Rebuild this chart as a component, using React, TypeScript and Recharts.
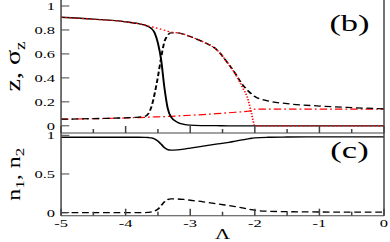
import { LineChart, Line, XAxis, YAxis, Customized } from 'recharts';

// coupling parameter (x axis)
const LAMBDA = [-5, -4.5, -4, -3.8, -3.7, -3.65, -3.6, -3.55, -3.5, -3.45, -3.4, -3.35, -3.3, -3.2, -3.1, -3.0, -2.8, -2.6, -2.4, -2.3, -2.2, -2.1, -2.05, -2.0, -1.8, -1.5, -1.0, -0.5, 0];

// panel (b)
const Z_SOLID = [0.906, 0.89, 0.868, 0.852, 0.84, 0.828, 0.812, 0.775, 0.69, 0.55, 0.32, 0.15, 0.075, 0.03, 0.012, 0.005, 0.002, 0.001, 0, 0, 0, 0, 0, 0, 0, 0, 0, 0, 0];
const SIGMA_DASHED = [0.055, 0.06, 0.067, 0.073, 0.078, 0.1, 0.16, 0.27, 0.41, 0.57, 0.7, 0.755, 0.775, 0.775, 0.763, 0.745, 0.7, 0.64, 0.51, 0.435, 0.35, 0.29, 0.265, 0.245, 0.208, 0.185, 0.165, 0.152, 0.142];
const Z_DOTTED = [0.906, 0.89, 0.868, 0.852, 0.84, 0.833, 0.826, 0.82, 0.813, 0.806, 0.798, 0.79, 0.783, 0.776, 0.765, 0.745, 0.7, 0.64, 0.51, 0.43, 0.33, 0.21, 0.1, 0, 0, 0, 0, 0, 0];
const SIGMA_DASHDOT = [0.055, 0.059, 0.065, 0.069, 0.071, 0.072, 0.073, 0.074, 0.075, 0.076, 0.077, 0.078, 0.079, 0.082, 0.085, 0.088, 0.094, 0.101, 0.109, 0.113, 0.117, 0.122, 0.125, 0.14, 0.14, 0.14, 0.14, 0.14, 0.14];

// panel (c)
const N1 = [0.975, 0.975, 0.975, 0.975, 0.974, 0.972, 0.967, 0.952, 0.925, 0.885, 0.84, 0.815, 0.808, 0.812, 0.822, 0.835, 0.86, 0.885, 0.91, 0.925, 0.94, 0.955, 0.962, 0.968, 0.975, 0.978, 0.98, 0.98, 0.98];
const N2 = [0, 0, 0, 0, 0.001, 0.003, 0.008, 0.02, 0.045, 0.09, 0.14, 0.168, 0.177, 0.176, 0.17, 0.16, 0.14, 0.116, 0.09, 0.077, 0.062, 0.046, 0.037, 0.03, 0.018, 0.012, 0.008, 0.006, 0.005];

const X_TICKS = [-5, -4.5, -4, -3.5, -3, -2.5, -2, -1.5, -1, -0.5, 0];
const TOP_Y_TICKS = [0, 0.2, 0.4, 0.6, 0.8, 1];
const BOT_Y_TICKS = [0, 0.5, 1];

const data = LAMBDA.map((x, i) => ({
  x,
  z: Z_SOLID[i],
  sz: SIGMA_DASHED[i],
  zd: Z_DOTTED[i],
  sd: SIGMA_DASHDOT[i],
  n1: N1[i],
  n2: N2[i],
}));

const SERIF = 'Liberation Serif, DejaVu Serif, serif';
const AXIS = '#444';
const RED = '#ff0000';

// x ticks point up into the panel; only whole numbers get a label
const XTick = ({ x, y, payload, labels }: any) => {
  const major = Number.isInteger(payload.value);
  return (
    <g>
      <line x1={x} x2={x} y1={y} y2={y - (major ? 7 : 4)} stroke={AXIS} />
      {labels && major && (
        <text x={x} y={y + 11} textAnchor="middle" fontSize={11} fontFamily={SERIF} fill="#000">
          {String(payload.value)}
        </text>
      )}
    </g>
  );
};

const YTickLeft = ({ x, y, payload }: any) => (
  <g>
    <line x1={x} x2={x + 5.5} y1={y} y2={y} stroke={AXIS} />
    <text x={x - 4} y={y} dy="0.355em" textAnchor="end" fontSize={11} fontFamily={SERIF} fill="#000">
      {String(payload.value)}
    </text>
  </g>
);

const YTickRight = ({ x, y }: any) => <line x1={x} x2={x - 5.5} y1={y} y2={y} stroke={AXIS} />;

const YTitle = ({ viewBox, kind }: any) => {
  const cy = viewBox.y + viewBox.height / 2;
  return (
    <text
      transform={`translate(13, ${cy}) scale(0.52, 1) rotate(-90)`}
      textAnchor="middle"
      fontSize={kind === 'z' ? 28 : 24}
      fontFamily={SERIF}
      fill="#000"
    >
      {kind === 'z' ? (
        <>
          z, σ<tspan dy={7} fontSize={19}>z</tspan>
        </>
      ) : (
        <>
          n<tspan dy={6} fontSize={17}>1</tspan>
          <tspan dy={-6}>, n</tspan>
          <tspan dy={6} fontSize={17}>2</tspan>
        </>
      )}
    </text>
  );
};

const XTitle = ({ viewBox }: any) => (
  <text
    x={viewBox.x + viewBox.width / 2}
    y={viewBox.y + viewBox.height - 3}
    textAnchor="middle"
    fontSize={14}
    fontFamily={SERIF}
    fill="#000"
  >
    Λ
  </text>
);

export default function App() {
  return (
    <div
      style={{
        position: 'absolute',
        left: 0,
        top: 0,
        width: 260,
        height: 242,
        transform: 'scale(1.5, 1)',
        transformOrigin: '0 0',
        background: '#fff',
      }}
    >
      <div style={{ position: 'absolute', left: 0, top: 0 }}>
        <LineChart width={260} height={134} data={data} margin={{ top: 0, right: 0, bottom: 0, left: 0 }}>
          <XAxis
            xAxisId="x"
            dataKey="x"
            type="number"
            domain={[-5, 0]}
            ticks={X_TICKS}
            interval={0}
            height={1}
            tickLine={false}
            tickSize={0}
            tickMargin={0}
            stroke={AXIS}
            tick={(p: any) => <XTick {...p} labels={false} />}
          />
          <YAxis
            yAxisId="y"
            type="number"
            domain={[-0.06, 1.05]}
            ticks={TOP_Y_TICKS}
            interval={0}
            width={40.7}
            tickLine={false}
            tickSize={0}
            tickMargin={0}
            stroke={AXIS}
            tick={YTickLeft}
            label={(p: any) => <YTitle {...p} kind="z" />}
          />
          <YAxis
            yAxisId="yr"
            orientation="right"
            type="number"
            domain={[-0.06, 1.05]}
            ticks={TOP_Y_TICKS}
            interval={0}
            width={4}
            tickLine={false}
            tickSize={0}
            tickMargin={0}
            stroke={AXIS}
            tick={YTickRight}
          />
          <Line xAxisId="x" yAxisId="y" dataKey="sd" type="linear" stroke={RED} strokeWidth={1.2} strokeDasharray="5 2 1.2 2" dot={false} isAnimationActive={false} />
          <Line xAxisId="x" yAxisId="y" dataKey="sz" type="monotone" stroke="#000" strokeWidth={1.3} strokeDasharray="4.5 2.5" dot={false} isAnimationActive={false} />
          <Line xAxisId="x" yAxisId="y" dataKey="z" type="monotone" stroke="#000" strokeWidth={1.3} dot={false} isAnimationActive={false} />
          <Line xAxisId="x" yAxisId="y" dataKey="zd" type="monotone" stroke={RED} strokeWidth={1.2} strokeDasharray="1.2 1.6" dot={false} isAnimationActive={false} />
          <Customized
            component={() => (
              <text x={233} y={31} textAnchor="middle" fontSize={23} fontFamily={SERIF} fill="#000">
                (b)
              </text>
            )}
          />
        </LineChart>
      </div>
      {/* starts 10px higher so the "1" label is not clipped; plot top stays at 133 */}
      <div style={{ position: 'absolute', left: 0, top: 123 }}>
        <LineChart width={260} height={119} data={data} margin={{ top: 10, right: 0, bottom: 0, left: 0 }}>
          <XAxis
            xAxisId="x"
            dataKey="x"
            type="number"
            domain={[-5, 0]}
            ticks={X_TICKS}
            interval={0}
            height={26.3}
            tickLine={false}
            tickSize={0}
            tickMargin={0}
            stroke={AXIS}
            tick={(p: any) => <XTick {...p} labels />}
            label={(p: any) => <XTitle {...p} />}
          />
          <YAxis
            yAxisId="y"
            type="number"
            domain={[-0.04, 1.03]}
            ticks={BOT_Y_TICKS}
            interval={0}
            width={40.7}
            tickLine={false}
            tickSize={0}
            tickMargin={0}
            stroke={AXIS}
            tick={YTickLeft}
            label={(p: any) => <YTitle {...p} kind="n" />}
          />
          <YAxis
            yAxisId="yr"
            orientation="right"
            type="number"
            domain={[-0.04, 1.03]}
            ticks={BOT_Y_TICKS}
            interval={0}
            width={4}
            tickLine={false}
            tickSize={0}
            tickMargin={0}
            stroke={AXIS}
            tick={YTickRight}
          />
          <Line xAxisId="x" yAxisId="y" dataKey="n1" type="monotone" stroke="#000" strokeWidth={1.3} dot={false} isAnimationActive={false} />
          <Line xAxisId="x" yAxisId="y" dataKey="n2" type="monotone" stroke="#000" strokeWidth={1.3} strokeDasharray="4.5 2.5" dot={false} isAnimationActive={false} />
          <Customized
            component={() => (
              <text x={233} y={35} textAnchor="middle" fontSize={23} fontFamily={SERIF} fill="#000">
                (c)
              </text>
            )}
          />
        </LineChart>
      </div>
    </div>
  );
}
